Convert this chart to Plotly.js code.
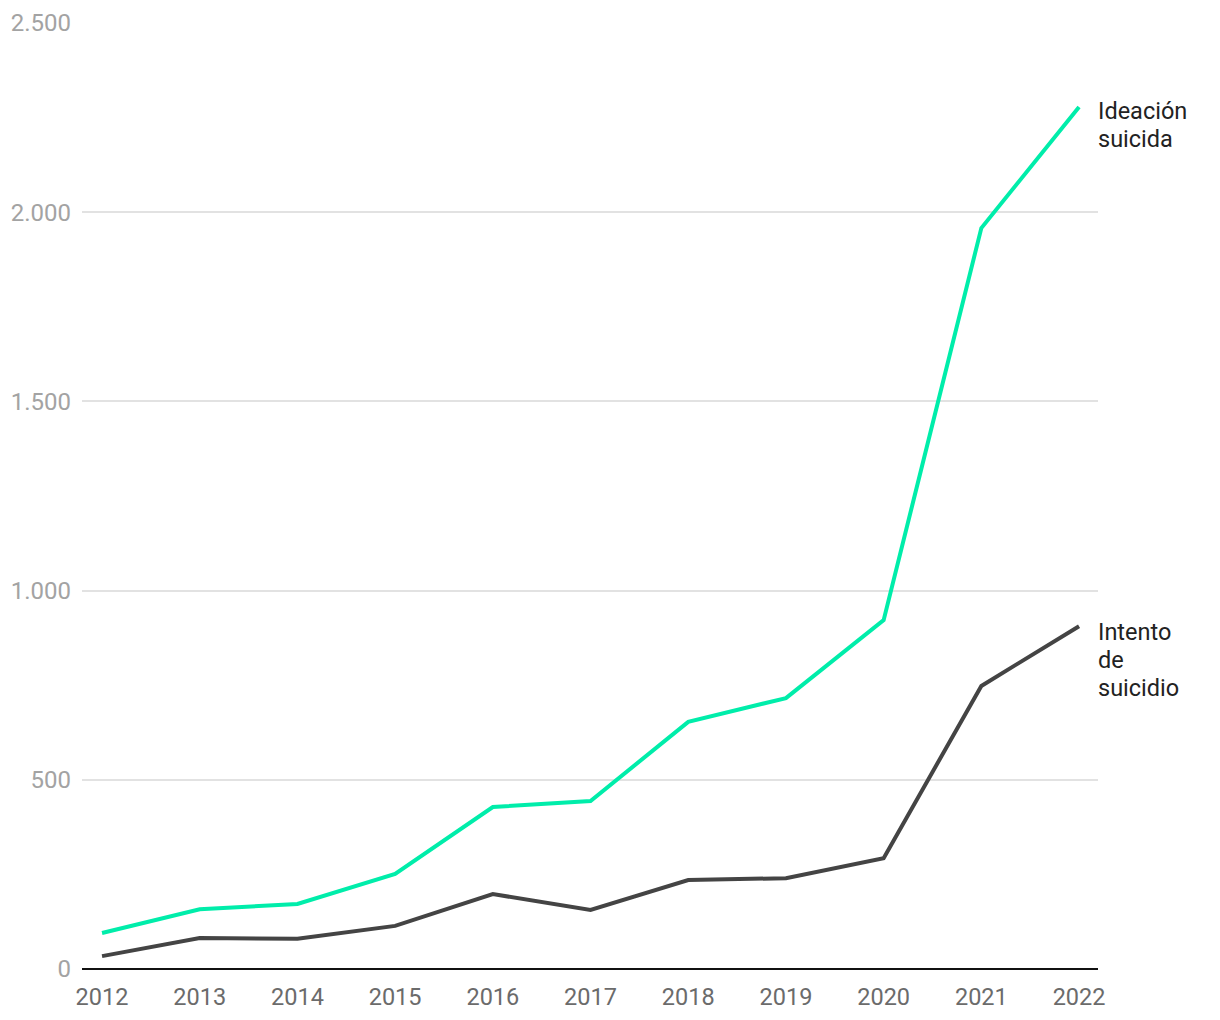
<!DOCTYPE html>
<html>
<head>
<meta charset="utf-8">
<script src="https://cdn.plot.ly/plotly-3.0.1.min.js"></script>
<style>html,body{margin:0;padding:0;background:#fff;}#chart{width:1220px;height:1020px;}</style>
</head>
<body>
<div id="chart"></div>
<script>
var years = [2012, 2013, 2014, 2015, 2016, 2017, 2018, 2019, 2020, 2021, 2022];
var ideacion = [95, 158, 172, 251, 428, 444, 653, 716, 922, 1958, 2278];
var intento = [34, 82, 80, 114, 198, 156, 235, 240, 293, 748, 906];
var ideacionLabel = ["Ideación", "suicida"];
var intentoLabel = ["Intento", "de", "suicidio"];
var yTicks = [0, 500, 1000, 1500, 2000, 2500];

var green = "#00EDAA";
var dark = "#444444";

var traces = [
  {x: years, y: ideacion, type: "scatter", mode: "lines", line: {color: green, width: 4}, hoverinfo: "skip"},
  {x: years, y: intento, type: "scatter", mode: "lines", line: {color: dark, width: 4}, hoverinfo: "skip"}
];

function labelAnnotations(lines, yVal, firstShift) {
  return lines.map(function (t, i) {
    return {
      x: years[years.length - 1], y: yVal, xref: "x", yref: "y",
      text: t, showarrow: false, xanchor: "left", yanchor: "middle",
      xshift: 17, yshift: firstShift - i * 28,
      font: {family: "Roboto, sans-serif", size: 23.5, color: "#222222"}
    };
  });
}

var annotations = labelAnnotations(ideacionLabel, ideacion[ideacion.length - 1], -4)
  .concat(labelAnnotations(intentoLabel, intento[intento.length - 1], -6));

var layout = {
  width: 1220, height: 1020,
  margin: {l: 82, r: 122, t: 23, b: 51, pad: 0},
  paper_bgcolor: "#ffffff", plot_bgcolor: "#ffffff",
  showlegend: false,
  separators: ",.",
  font: {family: "Roboto, sans-serif"},
  xaxis: {
    range: [2011.795, 2022.194],
    tickvals: years, ticktext: years.map(String),
    showgrid: false, zeroline: false, showline: false,
    ticks: "", ticklen: 0, ticklabelstandoff: 11,
    tickfont: {family: "Roboto, sans-serif", size: 23.5, color: "#6b6b6b"}
  },
  yaxis: {
    range: [0, 2500],
    tickvals: yTicks,
    tickformat: ",d",
    showgrid: true, gridcolor: "#e2e2e2", gridwidth: 2,
    zeroline: true, zerolinecolor: "#111111", zerolinewidth: 2,
    showline: false, ticks: "", ticklabelstandoff: 10,
    tickfont: {family: "Roboto, sans-serif", size: 24, color: "#a3a3a3"}
  },
  annotations: annotations
};

Plotly.newPlot("chart", traces, layout, {displayModeBar: false, staticPlot: true});
</script>
</body>
</html>
